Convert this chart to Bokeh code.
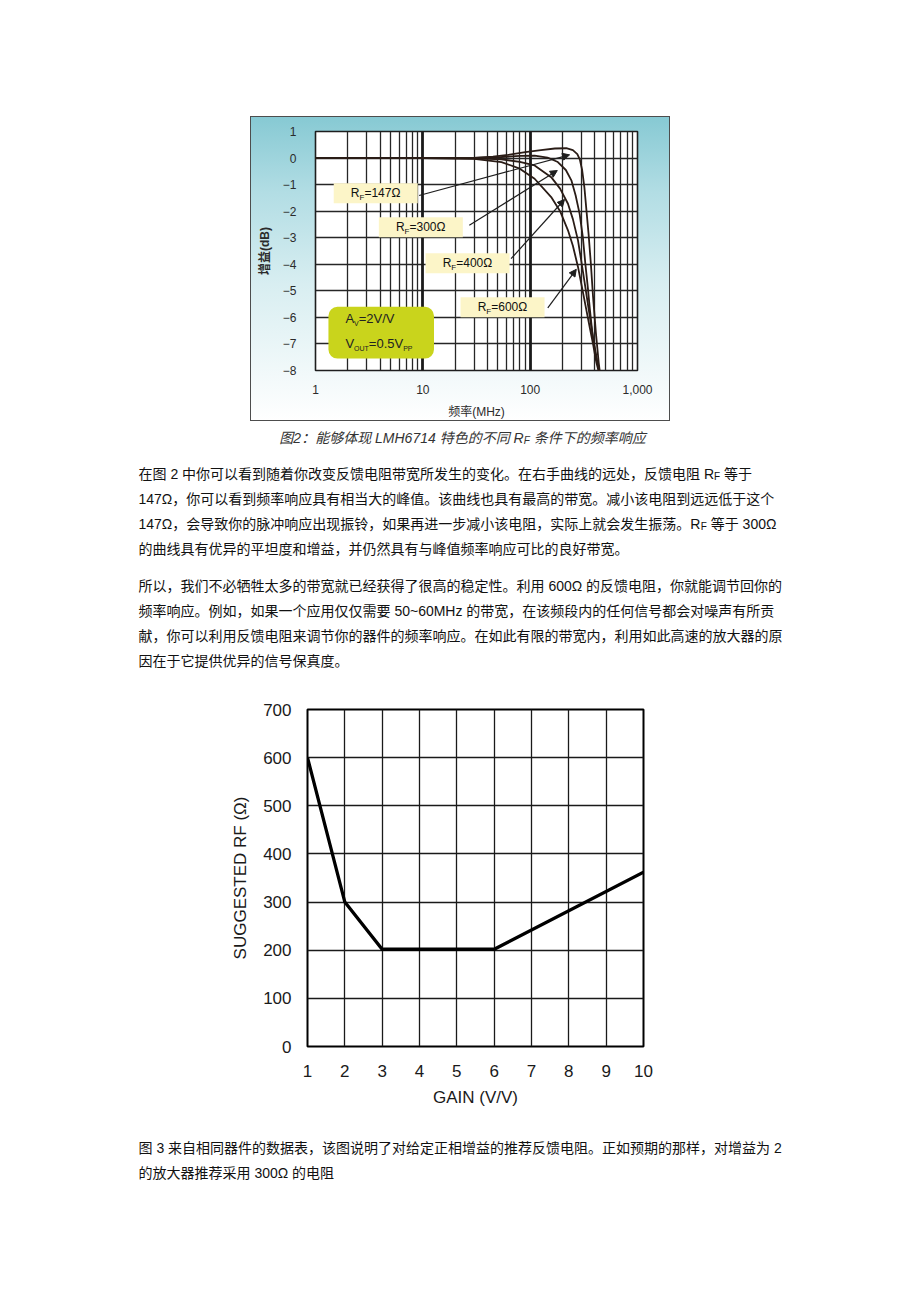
from bokeh.plotting import figure
from bokeh.layouts import column, row
from bokeh.models import (Range1d, FixedTicker, Grid, Arrow, NormalHead, BoxAnnotation,
                          Spacer, ColumnDataSource, NumeralTickFormatter)
from bokeh.core.properties import value
from bokeh.embed import file_html
from bokeh.resources import INLINE

FONT = "Liberation Sans, Noto Sans CJK SC"

# ---------------- Figure 2 data: gain (dB) vs frequency (MHz) ----------------
freq_rf147 = [1, 10, 30, 45, 62, 90, 126, 170, 217, 250, 275, 290, 305, 320, 335, 350, 368, 385, 410, 435, 450]
gain_rf147 = [0, 0, 0.01, 0.05, 0.12, 0.22, 0.3, 0.36, 0.37, 0.3, 0.15, -0.05, -0.45, -1.1, -2.0, -2.85, -4.0, -5.2, -6.6, -7.7, -8.2]
freq_rf300 = [1, 10, 30, 54, 80, 110, 145, 181, 215, 242, 265, 289, 310, 327, 345, 360, 380, 410, 450]
gain_rf300 = [0, 0, 0.01, 0.04, 0.08, 0.09, 0.02, -0.15, -0.45, -0.84, -1.4, -2.1, -3.0, -4.0, -4.9, -5.7, -6.6, -7.5, -8.2]
freq_rf400 = [1, 10, 30, 54, 80, 110, 157, 190, 225, 250, 279, 300, 322, 351, 390, 420, 450]
gain_rf400 = [0, 0, -0.01, -0.05, -0.14, -0.28, -0.72, -1.15, -1.72, -2.3, -3.1, -3.9, -4.7, -5.7, -6.9, -7.6, -8.2]
freq_rf600 = [1, 10, 30, 54, 80, 110, 157, 190, 225, 250, 279, 305, 333, 360, 385, 414, 445]
gain_rf600 = [0, 0, -0.03, -0.15, -0.4, -0.78, -1.47, -2.0, -2.72, -3.3, -4.1, -4.9, -5.7, -6.4, -7.0, -7.7, -8.2]

freq_ticks = [1, 10, 100, 1000]
gain_ticks = [-8, -7, -6, -5, -4, -3, -2, -1, 0, 1]
freq_minor_grid = [m * 10 ** k for k in range(3) for m in range(2, 10)]
freq_decade_grid = [10, 100]

# curve callouts (label box centre, arrow start -> arrow end), data units
callout_value = ["=147Ω", "=300Ω", "=400Ω", "=600Ω"]
callout_freq = [3.64, 9.58, 26.1, 55.3]
callout_gain = [-1.33, -2.61, -3.96, -5.62]
arrow_freq_start = [9.23, 27.1, 66.4, 146]
arrow_gain_start = [-1.41, -2.53, -3.79, -5.64]
arrow_freq_end = [233, 179, 209, 269]
arrow_gain_end = [0.12, -0.47, -1.56, -4.19]

cond_box_freq = [1.32, 12.7]
cond_box_gain = [-7.55, -5.6]
cond_text_freq = [1.9, 1.9]
cond_text_gain = [-6.04, -6.98]

# ---------------- Figure 3 data: suggested RF vs gain ----------------
gain_vv = [1, 2, 3, 6, 10]
rf_suggested = [600, 300, 202, 202, 362]
gain_axis_ticks = [1, 2, 3, 4, 5, 6, 7, 8, 9, 10]
rf_axis_ticks = [0, 100, 200, 300, 400, 500, 600, 700]

# ---------------- Text ----------------
caption_lines = [[("图2：能够体现 LMH6714 特色的不同 R", False), ("F", True), (" 条件下的频率响应", False)]]
para1_lines = [
    [("在图 2 中你可以看到随着你改变反馈电阻带宽所发生的变化。在右手曲线的远处，反馈电阻 R", False), ("F", True), (" 等于", False)],
    [("147Ω，你可以看到频率响应具有相当大的峰值。该曲线也具有最高的带宽。减小该电阻到远远低于这个", False)],
    [("147Ω，会导致你的脉冲响应出现振铃，如果再进一步减小该电阻，实际上就会发生振荡。R", False), ("F", True), (" 等于 300Ω", False)],
    [("的曲线具有优异的平坦度和增益，并仍然具有与峰值频率响应可比的良好带宽。", False)],
]
para2_lines = [
    [("所以，我们不必牺牲太多的带宽就已经获得了很高的稳定性。利用 600Ω 的反馈电阻，你就能调节回你的", False)],
    [("频率响应。例如，如果一个应用仅仅需要 50~60MHz 的带宽，在该频段内的任何信号都会对噪声有所贡", False)],
    [("献，你可以利用反馈电阻来调节你的器件的频率响应。在如此有限的带宽内，利用如此高速的放大器的原", False)],
    [("因在于它提供优异的信号保真度。", False)],
]
para3_lines = [
    [("图 3 来自相同器件的数据表，该图说明了对给定正相增益的推荐反馈电阻。正如预期的那样，对增益为 2", False)],
    [("的放大器推荐采用 300Ω 的电阻", False)],
]

ARIAL = {' ': 278, '=': 584, '.': 278, '/': 278, ',': 278, '(': 333, ')': 333, '~': 584,
         'Ω': 768, 'z': 500, 'A': 667, 'D': 722, 'E': 667, 'F': 611, 'G': 778, 'H': 722,
         'I': 278, 'L': 556, 'M': 833, 'N': 722, 'O': 778, 'P': 667, 'R': 722, 'S': 667,
         'T': 611, 'U': 722, 'V': 667}


def text_w(s, size):
    w = 0
    for ch in s:
        if ord(ch) >= 0x2000:
            w += 1000
        elif ch.isdigit():
            w += 556
        else:
            w += ARIAL.get(ch, 600)
    return w * size / 1000.0


def text_fig(width, height, left, top):
    f = figure(width=width, height=height, x_range=Range1d(left, left + width),
               y_range=Range1d(top + height, top),
               output_backend="svg", toolbar_location=None, min_border=0,
               x_axis_location=None, y_axis_location=None)
    f.grid.visible = False
    f.outline_line_color = None
    f.background_fill_color = "white"
    f.border_fill_color = "white"
    return f


def add_lines(fig, lines, x0, y0, dy, size, sub_size, color, style="normal", center=None):
    main = dict(x=[], y=[], t=[])
    sub = dict(x=[], y=[], t=[])
    for i, parts in enumerate(lines):
        total = sum(text_w(s, sub_size if is_sub else size) for s, is_sub in parts)
        x = (center - total / 2.0) if center is not None else x0
        y = y0 + i * dy
        for s, is_sub in parts:
            sz = sub_size if is_sub else size
            stripped = s.lstrip(' ')
            lead = text_w(s[:len(s) - len(stripped)], sz)
            d = sub if is_sub else main
            d["x"].append(x + lead)
            d["y"].append(y)
            d["t"].append(stripped)
            x += text_w(s, sz)
    fig.text(x="x", y="y", text="t", source=ColumnDataSource(main), text_font=value(FONT),
             text_font_size=f"{size}px", text_baseline="middle", text_align="left",
             text_color=color, text_font_style=style)
    if sub["x"]:
        fig.text(x="x", y="y", text="t", source=ColumnDataSource(sub), text_font=value(FONT),
                 text_font_size=f"{sub_size}px", text_baseline="middle", text_align="left",
                 text_color=color, text_font_style=style, y_offset=3)


# ================= Chart 1 =================
p1 = figure(width=420, height=305, x_axis_type="log", x_range=Range1d(1, 1000), y_range=Range1d(-8, 1),
            output_backend="svg", toolbar_location=None,
            min_border_left=65, min_border_right=33, min_border_top=15, min_border_bottom=49)
p1.styles = {"background": "linear-gradient(180deg, #86c9d3 0%, #b2dde4 25%, #d8eef1 55%, #f2f9fa 85%, #ffffff 100%)",
             "box-shadow": "inset 0 0 0 1px #4d4d4d"}
p1.border_fill_color = None
p1.background_fill_color = "white"
p1.outline_line_color = "#1e1e1e"
p1.outline_line_width = 1.6

p1.xaxis.ticker = FixedTicker(ticks=freq_ticks)
p1.xaxis.formatter = NumeralTickFormatter(format="0,0")
p1.yaxis.ticker = FixedTicker(ticks=gain_ticks)
for ax in (p1.xaxis[0], p1.yaxis[0]):
    ax.axis_line_color = None
    ax.major_tick_line_color = None
    ax.minor_tick_line_color = None
    ax.major_label_text_font = FONT
    ax.major_label_text_font_size = "12px"
    ax.major_label_text_color = "#2b2b2b"
    ax.axis_label_text_font = FONT
    ax.axis_label_text_font_size = "12px"
    ax.axis_label_text_font_style = "normal"
    ax.axis_label_text_color = "#2b2b2b"
p1.xaxis.axis_label = "频率(MHz)"
p1.yaxis.axis_label = "增益(dB)"
p1.yaxis.axis_label_text_font_style = "bold"
p1.yaxis.major_label_standoff = 13
p1.xaxis.major_label_standoff = 8
p1.xaxis.axis_label_standoff = 8
p1.yaxis.axis_label_standoff = 8

p1.xgrid.ticker = FixedTicker(ticks=freq_minor_grid)
p1.xgrid.grid_line_color = "#262626"
p1.xgrid.grid_line_width = 1.3
p1.ygrid.ticker = FixedTicker(ticks=gain_ticks)
p1.ygrid.grid_line_color = "#262626"
p1.ygrid.grid_line_width = 1.4
p1.add_layout(Grid(dimension=0, ticker=FixedTicker(ticks=freq_decade_grid),
                   grid_line_color="#1a1a1a", grid_line_width=2.8))

p1.add_layout(BoxAnnotation(left=cond_box_freq[0], right=cond_box_freq[1],
                            bottom=cond_box_gain[0], top=cond_box_gain[1],
                            fill_color="#c9d41c", fill_alpha=1.0, line_color=None,
                            border_radius=9, level="underlay"))

curve_color = "#2a1c16"
for fx, gy in ((freq_rf600, gain_rf600), (freq_rf400, gain_rf400),
               (freq_rf300, gain_rf300), (freq_rf147, gain_rf147)):
    p1.line(fx, gy, line_color=curve_color, line_width=1.8)

callout_src = ColumnDataSource(dict(f=callout_freq, g=callout_gain, v=callout_value))
p1.rect(x="f", y="g", width=84, height=20, width_units="screen", height_units="screen",
        fill_color="#fcf5c8", line_color=None, source=callout_src)
w_r = text_w("R", 12)
w_f = text_w("F", 8)
w_v = text_w("=147Ω", 12)
x_start = -(w_r + w_f + w_v) / 2.0
p1.text(x="f", y="g", text=value("R"), source=callout_src, x_offset=x_start,
        text_font=value(FONT), text_font_size="12px", text_baseline="middle", text_color="#111111")
p1.text(x="f", y="g", text=value("F"), source=callout_src, x_offset=x_start + w_r, y_offset=4,
        text_font=value(FONT), text_font_size="8px", text_baseline="middle", text_color="#111111")
p1.text(x="f", y="g", text="v", source=callout_src, x_offset=x_start + w_r + w_f,
        text_font=value(FONT), text_font_size="12px", text_baseline="middle", text_color="#111111")

arrow_src = ColumnDataSource(dict(fs=arrow_freq_start, gs=arrow_gain_start,
                                  fe=arrow_freq_end, ge=arrow_gain_end))
p1.add_layout(Arrow(end=NormalHead(size=7, fill_color="#1e1e1e", line_color="#1e1e1e", line_width=1),
                    source=arrow_src, x_start="fs", y_start="gs", x_end="fe", y_end="ge",
                    line_color="#1e1e1e", line_width=1.2))

# condition box text: A_V=2V/V ; V_OUT=0.5V_PP
main_d = dict(f=[], g=[], t=[], o=[])
sub_d = dict(f=[], g=[], t=[], o=[])
line_pieces = {0: [("A", False), ("V", True), ("=2V/V", False)],
               1: [("V", False), ("OUT", True), ("=0.5V", False), ("PP", True)]}
for li, pieces in line_pieces.items():
    off = 0.0
    for s, is_sub in pieces:
        d = sub_d if is_sub else main_d
        d["f"].append(cond_text_freq[li])
        d["g"].append(cond_text_gain[li])
        d["t"].append(s)
        d["o"].append(off)
        off += text_w(s, 7 if is_sub else 13)
p1.text(x="f", y="g", text="t", x_offset="o", source=ColumnDataSource(main_d),
        text_font=value(FONT), text_font_size="13px", text_baseline="middle", text_color="#222222")
p1.text(x="f", y="g", text="t", x_offset="o", y_offset=5, source=ColumnDataSource(sub_d),
        text_font=value(FONT), text_font_size="7px", text_baseline="middle", text_color="#222222")

# ================= Text block between charts =================
pt = text_fig(920, 269, 0, 421)
add_lines(pt, caption_lines, 0, 437, 25, 14, 10, "#333333", style="italic", center=462)
add_lines(pt, para1_lines, 138, 473, 25, 14, 10, "#111111")
add_lines(pt, para2_lines, 138, 585, 25, 14, 10, "#111111")

# ================= Chart 2 =================
p2 = figure(width=465, height=420, x_range=Range1d(1, 10), y_range=Range1d(0, 700),
            output_backend="svg", toolbar_location=None,
            min_border_left=92, min_border_right=37, min_border_top=19, min_border_bottom=64)
p2.background_fill_color = "white"
p2.border_fill_color = "white"
p2.outline_line_color = "black"
p2.outline_line_width = 2
p2.xaxis.ticker = FixedTicker(ticks=gain_axis_ticks)
p2.yaxis.ticker = FixedTicker(ticks=rf_axis_ticks)
for ax in (p2.xaxis[0], p2.yaxis[0]):
    ax.axis_line_color = None
    ax.major_tick_line_color = None
    ax.minor_tick_line_color = None
    ax.major_label_text_font = FONT
    ax.major_label_text_font_size = "17px"
    ax.major_label_text_color = "#1a1a1a"
    ax.axis_label_text_font = FONT
    ax.axis_label_text_font_size = "17px"
    ax.axis_label_text_font_style = "normal"
    ax.axis_label_text_color = "#1a1a1a"
p2.xaxis.major_label_standoff = 12
p2.yaxis.major_label_standoff = 10
p2.xaxis.axis_label = "GAIN (V/V)"
p2.xaxis.axis_label_standoff = 8
p2.yaxis.axis_label = "SUGGESTED RF (Ω)"
p2.yaxis.axis_label_standoff = 10
p2.grid.grid_line_color = "#1a1a1a"
p2.grid.grid_line_width = 1.3
p2.line(gain_vv, rf_suggested, line_color="black", line_width=3.3, line_join="miter")

# ================= Bottom text =================
pb = text_fig(920, 192, 0, 1110)
add_lines(pb, para3_lines, 138, 1147, 25, 14, 10, "#111111")

layout = column(
    Spacer(width=920, height=116),
    row(Spacer(width=250, height=305), p1),
    pt,
    row(Spacer(width=215, height=420), p2),
    pb,
)

with open("out.html", "w") as fh:
    fh.write(file_html(layout, INLINE))
